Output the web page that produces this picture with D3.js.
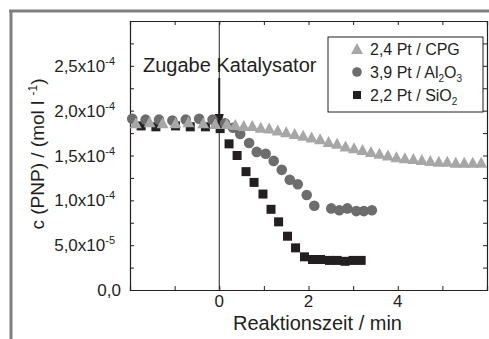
<!DOCTYPE html>
<html><head><meta charset="utf-8">
<script src="https://cdn.jsdelivr.net/npm/d3@7"></script>
<style>body{margin:0;background:#fff}svg{display:block}text{font-family:Arial,"Liberation Sans",sans-serif;fill:#231f20}</style>
</head><body><svg id="c" width="489" height="339"></svg>
<script>
// Data (time in min, concentration in mol/l)
const cpgT = [-1.87,-1.56,-1.27,-0.98,-0.69,-0.36,-0.09,0.17,0.36,0.55,0.74,0.93,1.12,1.31,1.50,1.69,1.88,2.07,2.26,2.45,2.64,2.83,3.02,3.21,3.40,3.59,3.78,3.97,4.16,4.35,4.54,4.73,4.92,5.11,5.30,5.49,5.68,5.87];
const cpgV = [1.86e-4,1.87e-4,1.86e-4,1.86e-4,1.87e-4,1.86e-4,1.85e-4,1.85e-4,1.84e-4,1.83e-4,1.83e-4,1.81e-4,1.80e-4,1.78e-4,1.76e-4,1.74e-4,1.72e-4,1.70e-4,1.68e-4,1.65e-4,1.63e-4,1.60e-4,1.58e-4,1.56e-4,1.54e-4,1.52e-4,1.50e-4,1.48e-4,1.47e-4,1.46e-4,1.45e-4,1.44e-4,1.43e-4,1.43e-4,1.42e-4,1.42e-4,1.42e-4,1.42e-4];
const alT = [-1.95,-1.65,-1.35,-1.05,-0.75,-0.45,-0.15,0.13,0.31,0.47,0.67,0.84,1.04,1.22,1.40,1.58,1.76,1.96,2.13,2.51,2.69,2.87,3.07,3.24,3.42];
const alV = [1.91e-4,1.90e-4,1.90e-4,1.89e-4,1.90e-4,1.91e-4,1.90e-4,1.86e-4,1.81e-4,1.74e-4,1.64e-4,1.54e-4,1.52e-4,1.44e-4,1.34e-4,1.23e-4,1.18e-4,1.06e-4,0.94e-4,0.91e-4,0.89e-4,0.91e-4,0.88e-4,0.88e-4,0.89e-4];
const siT = [-1.75,-1.42,-0.98,-0.65,-0.31,0.02,0.22,0.40,0.60,0.78,0.98,1.16,1.33,1.53,1.71,1.91,2.09,2.27,2.47,2.64,2.82,3.00,3.18];
const siV = [1.83e-4,1.82e-4,1.83e-4,1.82e-4,1.82e-4,1.80e-4,1.63e-4,1.50e-4,1.32e-4,1.20e-4,1.07e-4,0.90e-4,0.76e-4,0.60e-4,0.47e-4,0.37e-4,0.34e-4,0.34e-4,0.33e-4,0.33e-4,0.32e-4,0.33e-4,0.33e-4];
const xTicks = [0,2,4];
const yTicks = [0,5e-5,1e-4,1.5e-4,2e-4,2.5e-4];
const yTickMant = ["0,0","5,0","1,0","1,5","2,0","2,5"];
const yTickExp = ["","-5","-4","-4","-4","-4"];
const legendLabels = [["2,4 Pt / CPG"],["3,9 Pt / Al","2","O","3"],["2,2 Pt / SiO","2"]];
const colors = {cpg:"#a7a7a7", al:"#6d6d6d", si:"#231f20"};

const svg = d3.select("#c");
const L=130,R=487,T=21,B=290;
const x = d3.scaleLinear().domain([-2,6]).range([L,R]);
const y = d3.scaleLinear().domain([0,3e-4]).range([B,T]);

// outer gray frame
svg.append("line").attr("x1",9).attr("x2",489).attr("y1",11).attr("y2",11).attr("stroke","#7f7f7f").attr("stroke-width",3);
svg.append("line").attr("x1",11).attr("x2",11).attr("y1",10).attr("y2",339).attr("stroke","#7f7f7f").attr("stroke-width",3);

// axes with inward ticks
const minorX = d3.range(-2,6.01,1);
const minorY = d3.range(0,3.01e-4,2.5e-5);
const ax = svg.append("g");
ax.append("g").attr("transform",`translate(0,${B})`).call(d3.axisTop(x).tickValues(minorX).tickSize(4).tickFormat(""));
ax.append("g").attr("transform",`translate(0,${T})`).call(d3.axisBottom(x).tickValues(minorX).tickSize(4).tickFormat(""));
ax.append("g").attr("transform",`translate(${L},0)`).call(d3.axisRight(y).tickValues(minorY).tickSize(4).tickFormat(""));
ax.append("g").attr("transform",`translate(${R},0)`).call(d3.axisLeft(y).tickValues(minorY).tickSize(4).tickFormat(""));
ax.selectAll("path.domain").attr("stroke","#231f20").attr("stroke-width",1.2);
ax.selectAll(".tick line").attr("stroke","#231f20").attr("stroke-width",1);

// tick labels
svg.selectAll("text.xt").data(xTicks).join("text").attr("class","xt")
  .attr("x",d=>x(d)).attr("y",B+17).attr("text-anchor","middle").attr("font-size",17).text(d=>d);
const yl = svg.selectAll("text.yt").data(yTicks).join("text").attr("class","yt")
  .attr("x",d=>yTickExp[yTicks.indexOf(d)]? 115:121).attr("y",d=>y(d)+6).attr("text-anchor","end").attr("font-size",17);
yl.each(function(d,i){
  const t=d3.select(this);
  if(yTickExp[i]){
    t.append("tspan").text(yTickMant[i]+"x10");
    t.append("tspan").attr("dy",-7).attr("font-size",11).text(yTickExp[i]);
  } else t.text(yTickMant[i]);
});

// axis titles
svg.append("text").attr("x",(233+402)/2).attr("y",330).attr("text-anchor","middle").attr("font-size",20).text("Reaktionszeit / min");
const yt = svg.append("text").attr("transform","translate(44,154) rotate(-90)").attr("text-anchor","middle").attr("font-size",19);
yt.append("tspan").text("c (PNP) / (mol l ");
yt.append("tspan").attr("dy",-7).attr("font-size",12).text("-1");
yt.append("tspan").attr("dy",7).text(")");

// catalyst line + arrow
svg.append("line").attr("x1",x(0)).attr("x2",x(0)).attr("y1",T).attr("y2",B).attr("stroke","#231f20").attr("stroke-width",1);
svg.append("line").attr("x1",x(0)).attr("x2",x(0)).attr("y1",78).attr("y2",118).attr("stroke","#231f20").attr("stroke-width",2);
svg.append("path").attr("d",`M${x(0)-4.5},114 L${x(0)+4.5},114 L${x(0)},131 Z`).attr("fill","#231f20");
svg.append("text").attr("x",143).attr("y",72).attr("font-size",20).text("Zugabe Katalysator");

// data (squares, then circles, then triangles on top)
const g = svg.append("g");
const tri = "M0,-6 L6,5 L-6,5 Z";
g.selectAll("rect.si").data(siT).join("rect").attr("class","si")
  .attr("x",d=>x(d)-4.5).attr("y",(d,i)=>y(siV[i])-4.5).attr("width",9).attr("height",9).attr("fill",colors.si);
g.selectAll("circle.al").data(alT).join("circle").attr("class","al")
  .attr("cx",d=>x(d)).attr("cy",(d,i)=>y(alV[i])).attr("r",5.3).attr("fill",colors.al);
g.selectAll("path.cpg").data(cpgT).join("path").attr("class","cpg")
  .attr("d",tri).attr("transform",(d,i)=>`translate(${x(d)},${y(cpgV[i])})`).attr("fill",colors.cpg);

// legend
const lg = svg.append("g");
lg.append("rect").attr("x",328).attr("y",37).attr("width",155).attr("height",75).attr("fill","#fff").attr("stroke","#231f20").attr("stroke-width",1);
const rows=[49,72,95];
lg.append("path").attr("d",tri).attr("transform",`translate(357,${rows[0]})`).attr("fill",colors.cpg);
lg.append("circle").attr("cx",357).attr("cy",rows[1]).attr("r",4.8).attr("fill",colors.al);
lg.append("rect").attr("x",353).attr("y",rows[2]-4).attr("width",8).attr("height",8).attr("fill",colors.si);
legendLabels.forEach((parts,i)=>{
  const t=lg.append("text").attr("x",370).attr("y",rows[i]+6).attr("font-size",16);
  parts.forEach((p,j)=>{
    const sp=t.append("tspan").text(p);
    if(j%2===1){sp.attr("font-size",10).attr("dy",4);} else if(j>0){sp.attr("dy",-4);}
  });
});
</script></body></html>
